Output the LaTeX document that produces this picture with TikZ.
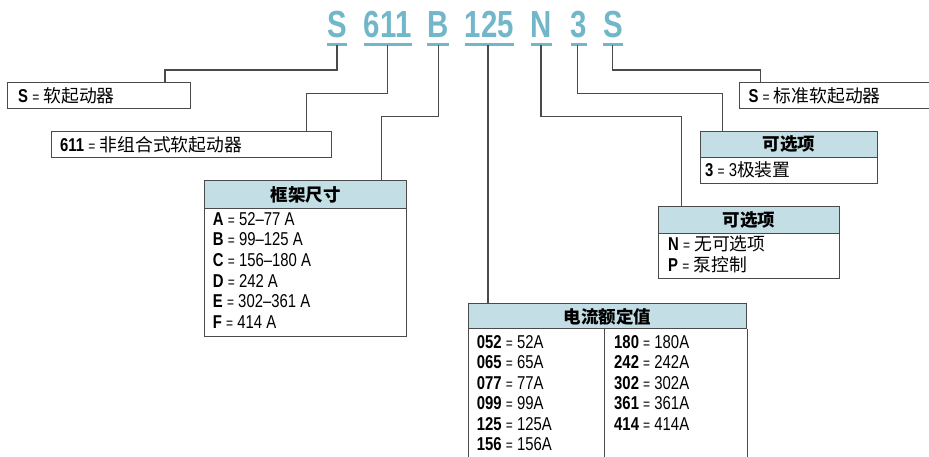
\documentclass[tikz,border=0pt]{standalone}
\usepackage{fontspec}
\setmainfont{Liberation Sans}[FakeStretch=0.8]
\newfontfamily\bigf{Liberation Sans}[FakeStretch=0.78]
\newfontfamily\cjk{Noto Sans CJK SC}
\definecolor{accent}{HTML}{72B6C9}
\definecolor{hdrfill}{HTML}{C4DEE5}
\definecolor{linec}{HTML}{4A4A4A}
\newcommand\zhx[1]{{\cjk\fontsize{17.8}{20}\selectfont #1}}
\newcommand\eqx{\hspace{4.2pt}{\fontsize{15}{18}\selectfont =}\hspace{4.2pt}}
\tikzset{
  bigl/.style={font=\bigf\bfseries\fontsize{37.7}{40}\selectfont, text=accent, inner sep=0, anchor=base},
  uline/.style={draw=accent, line width=2.6pt},
  conn/.style={draw=linec, line width=1.2pt},
  boxs/.style={draw=linec, line width=1.1pt, anchor=north west, inner sep=0},
  hdr/.style={boxs, fill=hdrfill},
  txt/.style={font=\fontsize{18.6}{20}\selectfont, inner sep=0, anchor=base west},
  htxt/.style={font=\cjk\bfseries\fontsize{17.5}{20}\selectfont, inner sep=0}
}
\begin{document}
\begin{tikzpicture}[x=1pt,y=-1pt]
\useasboundingbox (0,0) rectangle (929,456);
% top code letters
\node[bigl] (L1) at (337,37) {S};
\node[bigl] (L2) at (387.7,37) {611};
\node[bigl] (L3) at (438.3,37) {B};
\node[bigl] (L4) at (489.5,37) {125};
\node[bigl] (L5) at (541.5,37) {N};
\node[bigl] (L6) at (579,37) {3};
\node[bigl] (L7) at (613,37) {S};
\foreach \i in {1,...,7}{
  \draw[uline] (L\i.base west |- 0,44.5) -- (L\i.base east |- 0,44.5);
}
\coordinate (t1) at (337,45);
\coordinate (t2) at (387.7,45);
\coordinate (t3) at (438.5,45);
\coordinate (t4) at (488,45);
\coordinate (t5) at (541,45);
\coordinate (t6) at (577.7,45);
\coordinate (t7) at (612.3,45);
\coordinate (k1) at (165,70);
\coordinate (k2) at (306.7,93.3);
\coordinate (k3) at (381.7,116.7);
\coordinate (k5) at (681.7,116.7);
\coordinate (k6) at (722.7,93.3);
\coordinate (k7) at (760.7,70);

% boxes
\node[boxs, minimum width=183.3, minimum height=25.7] (bS) at (7,82) {};
\node[boxs, minimum width=280, minimum height=25.7] (b611) at (50.7,131) {};
\node[hdr, minimum width=202, minimum height=27.7] (fH) at (204,180) {};
\node[boxs, minimum width=202, minimum height=128] (fB) at (204,207.7) {};
\node[hdr, minimum width=277.7, minimum height=25] (cH) at (468.3,303.3) {};
\node[hdr, minimum width=176.7, minimum height=25.7] (oH) at (700,131) {};
\node[boxs, minimum width=176.7, minimum height=26] (oB) at (700,156.7) {};
\node[hdr, minimum width=180.7, minimum height=26.7] (nH) at (658.3,206) {};
\node[boxs, minimum width=180.7, minimum height=45.6] (nB) at (658.3,232.7) {};
\node[boxs, minimum width=200, minimum height=25.7] (bS2) at (739,82) {};
% current table body (cut at the bottom edge)
\draw[draw=linec, line width=1.1pt] (cH.south west) -- ++(0,140);
\draw[draw=linec, line width=1.1pt] (cH.south east) -- ++(0,140);
\draw[draw=linec, line width=1.1pt] (cH.south -| 604.3,0) -- ++(0,140);

% connectors
\draw[conn] (t1) |- (k1) -- (bS.north -| k1);
\draw[conn] (t2) |- (k2) -- (b611.north -| k2);
\draw[conn] (t3) |- (k3) -- (fH.north -| k3);
\draw[conn] (t4) -- (cH.north -| t4);
\draw[conn] (t5) |- (k5) -- (nH.north -| k5);
\draw[conn] (t6) |- (k6) -- (oH.north -| k6);
\draw[conn] (t7) |- (k7) -- (bS2.north -| k7);

% texts
\node[txt] (xS) at (18,102) {\textbf{S}\eqx\zhx{软起动器}};
\node[txt] (x611) at (60,151) {\textbf{611}\eqx\zhx{非组合式软起动器}};
\node[txt] (xS2) at (748.3,102) {\textbf{S}\eqx\zhx{标准软起动器}};
\node[htxt] (hF) at (fH.center) {框架尺寸};
\node[htxt] (hC) at (cH.center) {电流额定值};
\node[htxt] (hO) at (oH.center) {可选项};
\node[htxt] (hN) at (nH.center) {可选项};
\node[txt] (xO) at (705,176) {\textbf{3}\eqx 3\zhx{极装置}};
\node[txt] (xN1) at (668,250.3) {\textbf{N}\eqx\zhx{无可选项}};
\node[txt] (xN2) at (668,271) {\textbf{P}\eqx\zhx{泵控制}};
\foreach \c/\v [count=\i from 0] in {A/52–77 A, B/99–125 A, C/156–180 A, D/242 A, E/302–361 A, F/414 A}{
  \node[txt] (fr\i) at (212.7,225.3+20.6*\i) {\textbf{\c}\eqx\v};
}
\foreach \c/\v [count=\i from 0] in {052/52,065/65,077/77,099/99,125/125,156/156}{
  \node[txt] (cl\i) at (476.7,348+20.5*\i) {\textbf{\c}\eqx\v A};
}
\foreach \c/\v [count=\i from 0] in {180/180,242/242,302/302,361/361,414/414}{
  \node[txt] (cr\i) at (614,348+20.5*\i) {\textbf{\c}\eqx\v A};
}
\end{tikzpicture}
\end{document}
